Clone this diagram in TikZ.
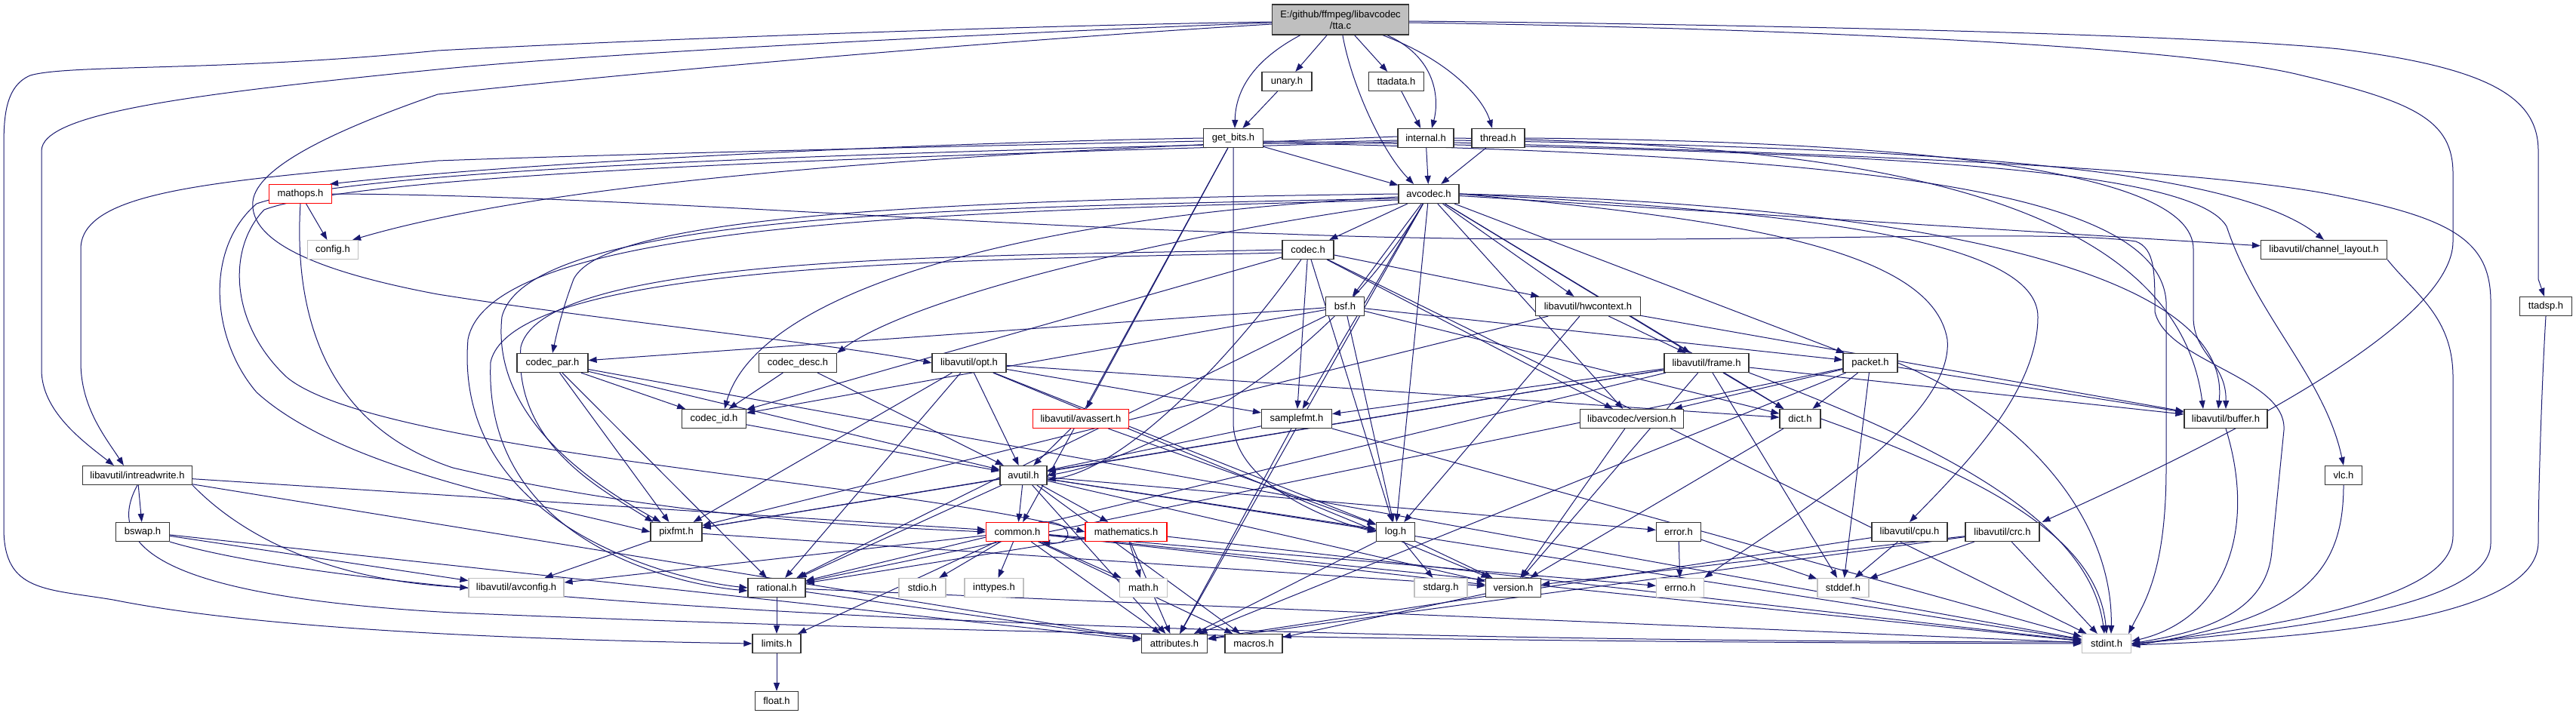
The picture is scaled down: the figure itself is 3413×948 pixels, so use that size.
\documentclass[tikz,border=0pt]{standalone}
\usepackage{fontspec}
\setmainfont{Liberation Sans}
\usetikzlibrary{arrows.meta}
\definecolor{edgec}{RGB}{25,25,112}
\definecolor{grayb}{RGB}{191,191,191}
\definecolor{ttafill}{RGB}{191,191,191}
\pgfdeclarelayer{back}
\pgfdeclarelayer{edges}
\pgfsetlayers{back,edges,main}
\tikzset{
  nd/.style={draw=black!80, line width=1.2pt, fill=white, minimum height=25pt, inner sep=0pt, font=\fontsize{13}{15}\selectfont},
  rednd/.style={nd, draw=red},
  graynd/.style={nd, draw=grayb},
  e/.style={draw=edgec, line width=1pt, -{Triangle[length=11pt,width=8pt]}},
}
\begin{document}
\begin{tikzpicture}[x=1pt,y=-1pt]
\begin{pgfonlayer}{back}
\fill[white] (0,0) rectangle (3413,948);
\end{pgfonlayer}
\useasboundingbox (0,0) rectangle (3413,948);

% ---------- nodes ----------
\node[nd, fill=ttafill, minimum width=181pt, minimum height=40pt, align=center] (tta) at (1776,26) {E:/github/ffmpeg/libavcodec\\/tta.c};
\node[nd, minimum width=66pt] (unary) at (1705,108) {unary.h};
\node[nd, minimum width=73pt] (ttadata) at (1850,108) {ttadata.h};
\node[nd, minimum width=79pt] (getbits) at (1634,183) {get\_bits.h};
\node[nd, minimum width=74pt] (internal) at (1889,183) {internal.h};
\node[nd, minimum width=70pt] (thread) at (1985,183) {thread.h};
\node[rednd, minimum width=83pt] (mathops) at (398,257) {mathops.h};
\node[nd, minimum width=80pt] (avcodec) at (1893,257) {avcodec.h};
\node[graynd, minimum width=67pt] (config) at (441,331) {config.h};
\node[nd, minimum width=68pt] (codec) at (1733,331) {codec.h};
\node[nd, minimum width=167pt] (chlayout) at (3079,331) {libavutil/channel\_layout.h};
\node[nd, minimum width=51pt] (bsf) at (1782,406) {bsf.h};
\node[nd, minimum width=139pt] (hwcontext) at (2104,406) {libavutil/hwcontext.h};
\node[nd, minimum width=69pt] (ttadsp) at (3373,406) {ttadsp.h};
\node[nd, minimum width=94pt] (codecpar) at (732,481) {codec\_par.h};
\node[nd, minimum width=103pt] (codecdesc) at (1057,481) {codec\_desc.h};
\node[nd, minimum width=98pt] (opt) at (1284,481) {libavutil/opt.h};
\node[nd, minimum width=112pt] (frame) at (2261,481) {libavutil/frame.h};
\node[nd, minimum width=72pt] (packet) at (2478,481) {packet.h};
\node[nd, minimum width=85pt] (codecid) at (946,555) {codec\_id.h};
\node[rednd, minimum width=127pt] (avassert) at (1432,555) {libavutil/avassert.h};
\node[nd, minimum width=93pt] (samplefmt) at (1718,555) {samplefmt.h};
\node[nd, minimum width=137pt] (lavcver) at (2162,555) {libavcodec/version.h};
\node[nd, minimum width=54pt] (dict) at (2385,555) {dict.h};
\node[nd, minimum width=110pt] (buffer) at (2949,555) {libavutil/buffer.h};
\node[nd, minimum width=145pt] (intrw) at (182,630) {libavutil/intreadwrite.h};
\node[nd, minimum width=62pt] (avutil) at (1356,630) {avutil.h};
\node[nd, minimum width=49pt] (vlc) at (3105,630) {vlc.h};
\node[nd, minimum width=71pt] (bswap) at (189,705) {bswap.h};
\node[nd, minimum width=68pt] (pixfmt) at (896,705) {pixfmt.h};
\node[rednd, minimum width=83pt] (common) at (1348,705) {common.h};
\node[rednd, minimum width=108pt] (mathem) at (1492,705) {mathematics.h};
\node[nd, minimum width=51pt] (log) at (1849,705) {log.h};
\node[nd, minimum width=59pt] (error) at (2224,705) {error.h};
\node[nd, minimum width=100pt] (cpu) at (2530,705) {libavutil/cpu.h};
\node[nd, minimum width=98pt] (crc) at (2653,705) {libavutil/crc.h};
\node[graynd, minimum width=126pt] (avconfig) at (684,779) {libavutil/avconfig.h};
\node[graynd, minimum width=62pt] (stdio) at (1222,779) {stdio.h};
\node[graynd, minimum width=78pt] (inttypes) at (1317,779) {inttypes.h};
\node[nd, minimum width=76pt] (rational) at (1029,779) {rational.h};
\node[graynd, minimum width=63pt] (mathh) at (1515,779) {math.h};
\node[graynd, minimum width=70pt] (stdarg) at (1909,779) {stdarg.h};
\node[nd, minimum width=73pt] (version) at (2005,779) {version.h};
\node[graynd, minimum width=63pt] (errno) at (2226,779) {errno.h};
\node[graynd, minimum width=68pt] (stddef) at (2442,779) {stddef.h};
\node[nd, minimum width=64pt] (limits) at (1029,853) {limits.h};
\node[nd, minimum width=87pt] (attributes) at (1556,853) {attributes.h};
\node[nd, minimum width=76pt] (macros) at (1661,853) {macros.h};
\node[graynd, minimum width=65pt] (stdint) at (2791,853) {stdint.h};
\node[nd, minimum width=57pt] (float) at (1029,929) {float.h};

\begin{pgfonlayer}{edges}
% ---------- tta.c ----------
\draw[e] (tta) -- (unary);
\draw[e] (tta) -- (ttadata);
\draw[e] ([xshift=38pt]tta.south west) .. controls (1660,80) and (1637,120) .. ([xshift=2pt]getbits.north);
\draw[e] ([xshift=94pt]tta.south west) .. controls (1790,110) and (1830,200) .. ([xshift=-20pt]avcodec.north);
\draw[e] ([xshift=153pt]tta.south west) .. controls (1910,80) and (1905,140) .. ([xshift=8pt]internal.north);
\draw[e] ([xshift=147pt]tta.south west) .. controls (1920,80) and (1965,130) .. ([xshift=-8pt]thread.north);
\draw[e] ([yshift=-3pt]tta.west) .. controls (1300,35) and (800,55) .. (580,67) .. controls (300,95) and (90,85) .. (40,100) .. controls (5,115) and (5,160) .. (5,200) -- (5,700) .. controls (5,785) and (60,780) .. (150,795) .. controls (350,835) and (700,848) .. (limits.west);
\draw[e] ([yshift=-4pt]tta.west) .. controls (1300,45) and (800,70) .. (580,92) .. controls (250,125) and (55,150) .. (55,200) -- (55,490) .. controls (55,545) and (110,585) .. ([xshift=42pt]intrw.north west);
\draw[e] ([yshift=-6pt]tta.west) .. controls (1300,55) and (800,100) .. (580,125) .. controls (450,170) and (340,220) .. (335,267) .. controls (330,320) and (420,360) .. (580,390) .. controls (800,425) and (1100,455) .. (opt.west);
\draw[e] ([yshift=-2pt]tta.east) .. controls (2300,32) and (2900,45) .. (3100,65) .. controls (3300,90) and (3363,130) .. (3363,200) -- (3363,370) -- ([xshift=-2pt]ttadsp.north);
\draw[e] ([yshift=-4pt]tta.east) .. controls (2400,38) and (2900,62) .. (3050,100) .. controls (3200,135) and (3250,160) .. (3250,230) -- (3250,320) .. controls (3250,420) and (3000,560) .. ([xshift=3pt]crc.north east);
% ---------- level 1-2 ----------
\draw[e] (unary) -- (getbits);
\draw[e] (ttadata) -- (internal);
\draw[e] (getbits) -- (avcodec);
\draw[e] (getbits.west) .. controls (1200,190) and (700,215) .. ([xshift=-3pt]mathops.north east);
\draw[e] ([yshift=-4pt]getbits.west) .. controls (1200,195) and (800,205) .. (580,213) .. controls (300,240) and (107,250) .. (107,330) -- (107,480) .. controls (107,540) and (140,580) .. ([xshift=55pt]intrw.north west);
\draw[e] (getbits) -- (avassert);
\draw[e] (getbits.south) -- (1634,560) .. controls (1634,640) and (1760,690) .. (log.west);
\draw[e] (getbits) -- (common);
\draw[e] ([yshift=-4pt]getbits.east) .. controls (2400,200) and (2900,215) .. (2950,300) .. controls (2990,420) and (3080,500) .. (vlc.north);
\draw[e] ([yshift=-6pt]getbits.east) .. controls (2400,205) and (2860,240) .. (2870,400) -- (2870,620) .. controls (2870,760) and (2840,800) .. ([xshift=-4pt]stdint.north east);
\draw[e] (internal) -- (avcodec);
\draw[e] ([yshift=2pt]internal.west) .. controls (1500,195) and (800,220) .. ([xshift=-8pt]config.north east);
\draw[e] ([yshift=-3pt]internal.west) .. controls (1400,197) and (500,215) .. (340,270) .. controls (270,330) and (280,450) .. (340,520) .. controls (450,620) and (700,665) .. (pixfmt.west);
\draw[e] ([yshift=-5pt]internal.west) .. controls (1400,202) and (500,222) .. (350,278) .. controls (300,330) and (305,430) .. (380,500) .. controls (500,600) and (1200,640) .. (mathem.west);
\draw[e] (internal.east) .. controls (2400,190) and (2880,240) .. ([xshift=-30pt]buffer.north);
\draw[e] ([yshift=-3pt]internal.east) .. controls (2500,195) and (2950,215) .. (chlayout.north);
\draw[e] ([yshift=-6pt]internal.east) .. controls (2300,200) and (2900,218) .. (3100,260) .. controls (3250,290) and (3300,320) .. (3300,400) -- (3300,720) .. controls (3300,800) and (3050,835) .. (stdint.east);
\draw[e] (thread) -- (avcodec);
\draw[e] (thread.east) .. controls (2500,187) and (2906,220) .. (2906,330) -- (2906,420) .. controls (2906,470) and (2950,480) .. (buffer.north);
% ---------- mathops ----------
\draw[e] (mathops) -- (config);
\draw[e] (mathops.south) .. controls (390,400) and (420,560) .. (600,620) .. controls (900,690) and (1200,700) .. (common.west);
\draw[e] (mathops.east) .. controls (800,258) and (1300,300) .. (1700,310) .. controls (2200,330) and (2700,300) .. (2830,320) .. controls (2855,330) and (2855,360) .. (2855,413) .. controls (2870,480) and (3030,500) .. (3026,570) -- (3010,730) .. controls (3003,820) and (2900,840) .. (stdint.east);
% ---------- avcodec.h ----------
\draw[e] (avcodec) -- (codec);
\draw[e] (avcodec) -- (bsf);
\draw[e] (avcodec) -- (hwcontext);
\draw[e] (avcodec.south west) .. controls (1500,320) and (1200,400) .. (codecdesc.north east);
\draw[e] (avcodec.west) .. controls (1200,265) and (800,290) .. (760,370) .. controls (745,410) and (738,440) .. (codecpar.north);
\draw[e] ([yshift=-4pt]avcodec.west) .. controls (1300,290) and (1000,400) .. ([xshift=14pt]codecid.north);
\draw[e] (avcodec) -- (packet);
\draw[e] (avcodec) -- (lavcver);
\draw[e] (avcodec) -- (samplefmt);
\draw[e] (avcodec) -- (attributes);
\draw[e] (avcodec) .. controls (1750,500) and (1500,612) .. (avutil.east);
\draw[e] (avcodec.east) .. controls (2500,270) and (2960,350) .. ([xshift=-10pt]buffer.north);
\draw[e] (avcodec.east) .. controls (2400,280) and (2700,320) .. (2700,420) .. controls (2700,520) and (2600,620) .. (cpu.north);
\draw[e] (avcodec) -- (chlayout);
\draw[e] (avcodec) -- (dict);
\draw[e] (avcodec) -- (frame);
\draw[e] (avcodec) -- (log);
\draw[e] ([yshift=-6pt]avcodec.west) .. controls (1300,275) and (700,280) .. (665,420) .. controls (650,560) and (800,650) .. ([xshift=14pt]pixfmt.north west);
\draw[e] ([yshift=-8pt]avcodec.west) .. controls (1300,280) and (650,290) .. (620,450) .. controls (600,700) and (900,770) .. (rational.west);
\draw[e] (avcodec.east) .. controls (2300,290) and (2560,330) .. (2580,450) .. controls (2590,560) and (2350,700) .. (errno.north east);
% ---------- codec.h ----------
\draw[e] (codec) -- (stdint);
\draw[e] (codec) .. controls (1650,450) and (1500,620) .. ([yshift=-6pt]avutil.east);
\draw[e] (codec) -- (hwcontext);
\draw[e] (codec) -- (log);
\draw[e] (codec.west) .. controls (1300,340) and (720,335) .. (690,460) .. controls (680,590) and (800,650) .. ([xshift=4pt]pixfmt.north west);
\draw[e] ([yshift=-4pt]codec.west) .. controls (1300,345) and (680,345) .. (650,480) .. controls (640,720) and (900,775) .. ([yshift=-4pt]rational.west);
\draw[e] (codec) -- (samplefmt);
\draw[e] (codec) -- (codecid);
\draw[e] (codec) -- (lavcver);
% ---------- bsf.h ----------
\draw[e] (bsf) -- (dict);
\draw[e] (bsf) -- (log);
\draw[e] (bsf) -- (rational);
\draw[e] (bsf) -- (codecid);
\draw[e] (bsf) -- (codecpar);
\draw[e] (bsf) -- (packet);
% ---------- hwcontext.h ----------
\draw[e] (hwcontext) -- (buffer);
\draw[e] (hwcontext) -- (frame);
\draw[e] (hwcontext) -- (log);
\draw[e] (hwcontext) -- (pixfmt);
% ---------- codec_par / desc / id ----------
\draw[e] (codecpar) -- (stdint);
\draw[e] (codecpar) -- (avutil);
\draw[e] (codecpar) -- (rational);
\draw[e] (codecpar) -- (pixfmt);
\draw[e] (codecpar) -- (codecid);
\draw[e] (codecdesc) -- (avutil);
\draw[e] (codecdesc) -- (codecid);
\draw[e] (codecid) -- (avutil);
% ---------- opt.h ----------
\draw[e] (opt) -- (rational);
\draw[e] (opt) -- (avutil);
\draw[e] (opt) -- (dict);
\draw[e] (opt) -- (log);
\draw[e] (opt) -- (pixfmt);
\draw[e] (opt) -- (samplefmt);
\draw[e] (opt) -- (version);
% ---------- frame.h ----------
\draw[e] (frame) -- (stddef);
\draw[e] (frame.south east) .. controls (2600,600) and (2770,700) .. ([xshift=-3pt]stdint.north);
\draw[e] (frame) -- (avutil);
\draw[e] (frame) -- (buffer);
\draw[e] (frame) -- (dict);
\draw[e] (frame) -- (rational);
\draw[e] (frame) -- (samplefmt);
\draw[e] (frame) -- (pixfmt);
\draw[e] (frame) -- (version);
% ---------- packet.h ----------
\draw[e] (packet) -- (stddef);
\draw[e] (packet.east) .. controls (2700,560) and (2800,700) .. ([xshift=6pt]stdint.north);
\draw[e] (packet) -- (attributes);
\draw[e] (packet) -- (buffer);
\draw[e] (packet) -- (dict);
\draw[e] (packet) -- (rational);
\draw[e] (packet) -- (lavcver);
% ---------- row 8 ----------
\draw[e] (avassert) -- (avutil);
\draw[e] (avassert) -- (log);
\draw[e] (samplefmt) -- (stdint);
\draw[e] (samplefmt) -- (avutil);
\draw[e] (samplefmt) -- (attributes);
\draw[e] (lavcver) -- (version);
\draw[e] (dict.east) .. controls (2650,640) and (2780,720) .. (stdint.north);
\draw[e] (dict) -- (version);
\draw[e] (buffer.south) .. controls (2990,700) and (2950,820) .. ([yshift=3pt]stdint.east);
% ---------- row 9 ----------
\draw[e] (intrw) -- (bswap);
\draw[e] (intrw.south east) .. controls (330,720) and (450,770) .. (avconfig.west);
\draw[e] (intrw) -- (attributes);
\draw[e] (intrw.south) .. controls (140,720) and (200,790) .. (600,812) .. controls (1500,850) and (2400,852) .. (stdint.west);
\draw[e] (intrw) -- (common);
\draw[e] (avutil) -- (common);
\draw[e] (avutil) -- (error);
\draw[e] (avutil) -- (rational);
\draw[e] (avutil) -- (version);
\draw[e] (avutil) -- (macros);
\draw[e] (avutil) -- (mathem);
\draw[e] (avutil) -- (log);
\draw[e] (avutil) -- (pixfmt);
\draw[e] (avutil) -- (attributes);
\draw[e] (avutil) -- (stdint);
\draw[e] (vlc.south) .. controls (3105,760) and (3050,820) .. ([yshift=-3pt]stdint.east);
\draw[e] (chlayout.south east) .. controls (3200,390) and (3250,420) .. (3250,500) -- (3250,710) .. controls (3250,780) and (3100,820) .. ([yshift=-1pt]stdint.east);
\draw[e] (ttadsp.south) .. controls (3368,500) and (3363,650) .. (3363,720) .. controls (3360,815) and (3100,845) .. ([yshift=-2pt]stdint.east);
% ---------- row 10 ----------
\draw[e] (bswap) -- (avconfig);
\draw[e] (bswap) -- (attributes);
\draw[e] (bswap.south east) .. controls (500,800) and (1500,850) .. ([yshift=2pt]stdint.west);
\draw[e] (pixfmt) -- (avconfig);
\draw[e] (pixfmt) -- (version);
\draw[e] ([xshift=-14pt]common.north east) .. controls (1425,688) and (1425,724) .. ([xshift=-10pt]common.south east);
\draw[e] (common) -- (stdio);
\draw[e] (common) -- (inttypes);
\draw[e] (common) -- (mathh);
\draw[e] (common) -- (errno);
\draw[e] (common) -- (limits);
\draw[e] (common) -- (stdint);
\draw[e] (common) -- (attributes);
\draw[e] (common) -- (macros);
\draw[e] (common) -- (version);
\draw[e] (common) -- (avconfig);
\draw[e] (mathem) -- (mathh);
\draw[e] (mathem) -- (attributes);
\draw[e] (mathem) -- (rational);
\draw[e] (mathem) -- (stdint);
\draw[e] (log) -- (stdarg);
\draw[e] (log) -- (attributes);
\draw[e] (log) -- (version);
\draw[e] (error) -- (errno);
\draw[e] (error) -- (stddef);
\draw[e] (cpu) -- (stddef);
\draw[e] (cpu) -- (attributes);
\draw[e] (crc) -- (stddef);
\draw[e] (crc) -- (stdint);
\draw[e] (crc) -- (attributes);
\draw[e] (crc) -- (version);
% ---------- row 11-12 ----------
\draw[e] (rational) -- (limits);
\draw[e] (rational) -- (stdint);
\draw[e] (rational) -- (attributes);
\draw[e] (version) -- (macros);
\draw[e] (limits) -- (float);
\end{pgfonlayer}
\end{tikzpicture}
\end{document}
